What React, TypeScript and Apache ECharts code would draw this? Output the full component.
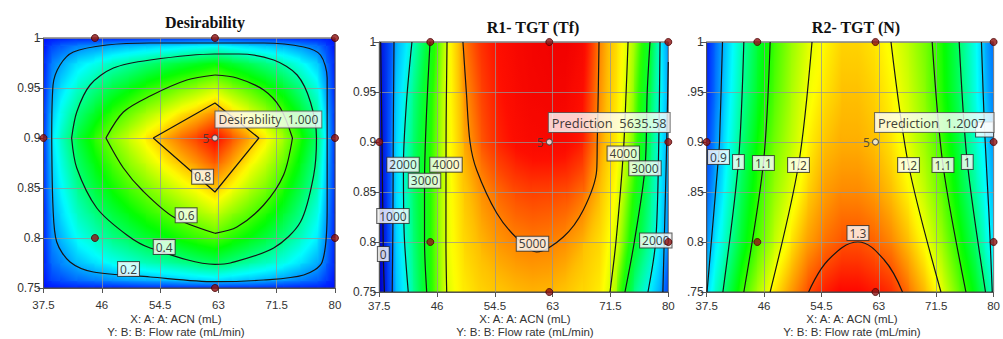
import React, { useEffect, useRef } from "react";
import * as echarts from "echarts";

// ---------------- data ----------------
const xTickValues = [37.5, 46, 54.5, 63, 71.5, 80];
const yTickValues = [0.75, 0.8, 0.85, 0.9, 0.95, 1];

// grid nodes of the colour field (A: ACN)
const fieldX = [37.5, 38.75, 40, 42.5, 45, 47.5, 50, 52.5, 55, 57.5, 60, 62.5, 65, 67.5, 70, 72.5, 75, 77.5, 78.75, 80];

// Desirability field, rows bottom (0.75) to top (1.0)
const desY = [0.75, 0.7575, 0.775, 0.8, 0.825, 0.85, 0.875, 0.9, 0.925, 0.95, 0.975, 0.9925, 1.0];
const desZ = [
  [0, 0, 0.01, 0.01, 0.01, 0.01, 0.01, 0.02, 0.02, 0.02, 0.02, 0.02, 0.02, 0.02, 0.02, 0.01, 0.01, 0.01, 0, 0],
  [0, 0.05, 0.06, 0.09, 0.11, 0.13, 0.15, 0.16, 0.17, 0.19, 0.2, 0.21, 0.19, 0.18, 0.16, 0.14, 0.11, 0.08, 0.04, 0],
  [0.01, 0.09, 0.12, 0.18, 0.22, 0.26, 0.29, 0.32, 0.34, 0.36, 0.39, 0.41, 0.38, 0.34, 0.31, 0.27, 0.22, 0.16, 0.09, 0.01],
  [0.01, 0.13, 0.17, 0.26, 0.31, 0.37, 0.41, 0.45, 0.48, 0.52, 0.55, 0.58, 0.53, 0.49, 0.44, 0.38, 0.31, 0.23, 0.12, 0.01],
  [0.01, 0.15, 0.21, 0.31, 0.38, 0.44, 0.49, 0.54, 0.58, 0.62, 0.66, 0.7, 0.64, 0.59, 0.53, 0.46, 0.37, 0.27, 0.15, 0.01],
  [0.02, 0.18, 0.24, 0.36, 0.44, 0.51, 0.57, 0.62, 0.67, 0.72, 0.76, 0.81, 0.75, 0.68, 0.62, 0.53, 0.43, 0.32, 0.17, 0.02],
  [0.02, 0.2, 0.27, 0.4, 0.49, 0.57, 0.64, 0.7, 0.76, 0.81, 0.86, 0.91, 0.84, 0.76, 0.69, 0.6, 0.48, 0.35, 0.19, 0.02],
  [0.02, 0.22, 0.3, 0.44, 0.54, 0.63, 0.7, 0.77, 0.83, 0.89, 0.94, 1.0, 0.92, 0.84, 0.76, 0.66, 0.53, 0.39, 0.21, 0.02],
  [0.02, 0.19, 0.26, 0.38, 0.46, 0.54, 0.6, 0.66, 0.71, 0.77, 0.81, 0.86, 0.79, 0.72, 0.65, 0.57, 0.46, 0.34, 0.18, 0.02],
  [0.01, 0.15, 0.21, 0.3, 0.37, 0.43, 0.48, 0.53, 0.57, 0.61, 0.65, 0.69, 0.63, 0.58, 0.52, 0.46, 0.37, 0.27, 0.14, 0.01],
  [0.01, 0.11, 0.15, 0.22, 0.26, 0.31, 0.34, 0.38, 0.41, 0.44, 0.46, 0.49, 0.45, 0.41, 0.37, 0.32, 0.26, 0.19, 0.1, 0.01],
  [0, 0.05, 0.07, 0.11, 0.13, 0.15, 0.17, 0.18, 0.2, 0.21, 0.23, 0.24, 0.22, 0.2, 0.18, 0.16, 0.13, 0.09, 0.05, 0],
  [0, 0, 0.01, 0.01, 0.01, 0.01, 0.01, 0.02, 0.02, 0.02, 0.02, 0.02, 0.02, 0.02, 0.02, 0.01, 0.01, 0.01, 0, 0],
];

// R1 - TGT (Tf) field
const r1Y = [0.75, 0.8, 0.85, 0.9, 0.95, 1.0];
const r1Z = [
  [-600, 450, 1380, 2330, 3250, 4030, 4350, 4540, 4650, 4720, 4760, 4740, 4650, 4480, 4380, 3650, 2450, 1750, 1250, 700],
  [-550, 550, 1500, 2480, 3280, 4060, 4500, 4750, 4900, 4990, 5030, 5010, 4940, 4750, 4450, 3950, 3000, 2250, 1750, 1000],
  [-450, 600, 1600, 2560, 3300, 4050, 4620, 4920, 5110, 5230, 5280, 5260, 5220, 5100, 4700, 4100, 3280, 2380, 1850, 1100],
  [-350, 620, 1560, 2550, 3280, 4050, 4800, 5180, 5400, 5540, 5620, 5636, 5600, 5420, 4880, 4300, 3550, 2500, 1900, 1200],
  [-200, 600, 1450, 2400, 3200, 4050, 4920, 5260, 5470, 5610, 5690, 5720, 5700, 5520, 4930, 4380, 3650, 2620, 1980, 1250],
  [-100, 560, 1250, 2100, 3020, 4020, 5040, 5350, 5520, 5640, 5720, 5780, 5780, 5650, 4970, 4450, 3720, 2860, 1990, 1000],
];

// R2 - TGT (N) field
const r2Y = [0.75, 0.8, 0.85, 0.9, 0.95, 1.0];
const r2Z = [
  [0.91, 0.96, 1.0, 1.09, 1.16, 1.22, 1.26, 1.3, 1.33, 1.34, 1.34, 1.33, 1.32, 1.28, 1.24, 1.19, 1.12, 1.05, 1.01, 0.96],
  [0.87, 0.92, 0.96, 1.04, 1.11, 1.17, 1.22, 1.26, 1.28, 1.3, 1.3, 1.29, 1.27, 1.24, 1.2, 1.15, 1.08, 1.01, 0.96, 0.92],
  [0.84, 0.89, 0.93, 1.02, 1.09, 1.15, 1.19, 1.23, 1.26, 1.27, 1.27, 1.26, 1.24, 1.21, 1.17, 1.12, 1.05, 0.98, 0.94, 0.89],
  [0.82, 0.87, 0.91, 1.0, 1.07, 1.13, 1.17, 1.21, 1.24, 1.25, 1.25, 1.24, 1.22, 1.19, 1.15, 1.1, 1.03, 0.96, 0.92, 0.87],
  [0.81, 0.85, 0.9, 0.98, 1.05, 1.11, 1.16, 1.2, 1.22, 1.24, 1.24, 1.23, 1.21, 1.18, 1.14, 1.08, 1.02, 0.94, 0.9, 0.86],
  [0.8, 0.85, 0.89, 0.97, 1.04, 1.1, 1.15, 1.19, 1.21, 1.23, 1.23, 1.22, 1.2, 1.17, 1.13, 1.08, 1.01, 0.94, 0.89, 0.85],
];

// contour lines (each entry: one drawn segment)
const desContours = [
  { smooth: 0.3, pts: [[38.7, 0.9], [38.89, 0.953], [39.91, 0.973], [41.85, 0.986], [46.73, 0.993], [53.05, 0.995], [62.5, 0.995], [69.6, 0.995], [75.44, 0.991], [77.88, 0.983], [78.86, 0.96], [78.86, 0.9], [78.86, 0.83], [78.13, 0.776], [75.44, 0.763], [69.6, 0.758], [62.5, 0.7563], [53.05, 0.761], [44.77, 0.766], [41.37, 0.776], [39.43, 0.796], [38.89, 0.83], [38.7, 0.9]] },
  { smooth: 0.3, pts: [[41.6, 0.9], [42.35, 0.926], [44.29, 0.953], [47.69, 0.97], [53.05, 0.978], [62.5, 0.984], [66, 0.984], [71.06, 0.978], [74.48, 0.963], [76.42, 0.936], [77.3, 0.9], [76.9, 0.863], [74.96, 0.816], [71.06, 0.79], [64.74, 0.775], [62.5, 0.7737], [53.05, 0.79], [49.65, 0.803], [45.27, 0.83], [42.35, 0.87], [41.6, 0.9]] },
  { smooth: 0.3, pts: [[46.6, 0.9], [49.15, 0.926], [53.05, 0.942], [58.4, 0.958], [62.5, 0.963]] },
  { smooth: 0.3, pts: [[62.5, 0.963], [65.7, 0.96], [69.6, 0.948], [72.04, 0.93], [73.8, 0.9]] },
  { smooth: 0.3, pts: [[73.8, 0.9], [72.5, 0.863], [69.6, 0.833], [65.7, 0.811], [62.5, 0.8047]] },
  { smooth: 0.3, pts: [[62.5, 0.8047], [56.46, 0.821], [52, 0.847], [49.15, 0.87], [46.6, 0.9]] },
  { smooth: 0, pts: [[53.5, 0.9], [62.5, 0.935], [68.9, 0.9], [62.5, 0.846], [53.5, 0.9]] },
];
const desLabels = [
  { text: "0.2", x: 49.9, y: 0.769 },
  { text: "0.4", x: 55.1, y: 0.791 },
  { text: "0.6", x: 58.3, y: 0.8227 },
  { text: "0.8", x: 60.7, y: 0.8613 },
];

const r1Contours = [
  { smooth: 0.3, pts: [[37.7, 1], [37.9, 0.9], [38.09, 0.788], [38.25, 0.75]] },
  { smooth: 0.3, pts: [[39.66, 1], [39.55, 0.9], [39.51, 0.826], [39.4, 0.75]] },
  { smooth: 0.3, pts: [[42.3, 1], [41.5, 0.94], [41.05, 0.877], [41.15, 0.81], [41.76, 0.75]] },
  { smooth: 0.3, pts: [[44.96, 1], [44.45, 0.93], [44.15, 0.861], [44.15, 0.8], [44.47, 0.75]] },
  { smooth: 0.3, pts: [[47.46, 1], [47.33, 0.92], [47.31, 0.877], [47.3, 0.8], [47.41, 0.75]] },
  { smooth: 0.3, pts: [[49.8, 1], [50.3, 0.95], [50.84, 0.9], [51.82, 0.872], [54.76, 0.829], [57.7, 0.804], [60.65, 0.79], [64.56, 0.805], [67.5, 0.832], [69.47, 0.872], [69.55, 0.9], [69.7, 0.95], [69.81, 1]] },
  { smooth: 0.3, pts: [[74.08, 1], [73.8, 0.95], [73.38, 0.8885], [72.3, 0.8], [71.43, 0.75]] },
  { smooth: 0.3, pts: [[77.31, 1], [76.9, 0.95], [76.57, 0.8737], [75.0, 0.8], [73.63, 0.75]] },
  { smooth: 0.3, pts: [[78.78, 1], [78.6, 0.9], [78.16, 0.8015], [77.01, 0.75]] },
  { smooth: 0.3, pts: [[80, 0.98], [79.7, 0.88], [79.2, 0.75]] },
];
const r1Labels = [
  { text: "0", x: 38.09, y: 0.788 },
  { text: "1000", x: 39.51, y: 0.826 },
  { text: "2000", x: 40.99, y: 0.8773 },
  { text: "3000", x: 44.15, y: 0.8613 },
  { text: "4000", x: 47.31, y: 0.8773 },
  { text: "5000", x: 60.03, y: 0.7983 },
  { text: "4000", x: 73.38, y: 0.8885 },
  { text: "3000", x: 76.57, y: 0.8737 },
  { text: "2000", x: 78.16, y: 0.8015 },
];

const r2Contours = [
  { smooth: 0.3, pts: [[39.84, 1], [39.4, 0.9], [39.25, 0.885], [37.55, 0.75]] },
  { smooth: 0.3, pts: [[43.0, 1], [42.2, 0.88], [39.9, 0.75]] },
  { smooth: 0.3, pts: [[46.9, 1], [45.9, 0.879], [43.0, 0.75]] },
  { smooth: 0.3, pts: [[53.1, 1], [51.1, 0.877], [46.9, 0.75]] },
  { smooth: 0.4, pts: [[52.6, 0.75], [55.5, 0.782], [59.9, 0.8], [63.8, 0.782], [66.5, 0.75]] },
  { smooth: 0.3, pts: [[64.8, 1], [67.4, 0.877], [72.2, 0.75]] },
  { smooth: 0.3, pts: [[70.9, 1], [72.5, 0.877], [75.9, 0.75]] },
  { smooth: 0.3, pts: [[74.9, 1], [76.1, 0.88], [78.8, 0.75]] },
  { smooth: 0.3, pts: [[78.2, 1], [78.66, 0.9125], [79.3, 0.83], [79.8, 0.75]] },
];
const r2Labels = [
  { text: "0.9", x: 39.25, y: 0.885 },
  { text: "1", x: 42.2, y: 0.88 },
  { text: "1.1", x: 45.9, y: 0.879 },
  { text: "1.2", x: 51.1, y: 0.877 },
  { text: "1.3", x: 59.9, y: 0.809 },
  { text: "1.2", x: 67.4, y: 0.877 },
  { text: "1.1", x: 72.5, y: 0.877 },
  { text: "1", x: 76.1, y: 0.88 },
];
// contour label box hidden behind the prediction box (only its lower edge shows)
const r2HiddenLabelBoxes = [[78.66, 0.9125]];

const designPoints = [[45, 1], [62.5, 1], [80, 1], [37.5, 0.9], [80, 0.9], [45, 0.8], [80, 0.8], [62.5, 0.75]];
const centerPoint = [62.5, 0.9];
const centerRuns = "5";

const titles = ["Desirability", "R1- TGT (Tf)", "R2- TGT (N)"];
const predictions = ["Desirability  1.000", "Prediction  5635.58", "Prediction  1.2007"];
const xName = "X: A: A: ACN (mL)";
const yName = "Y: B: B: Flow rate (mL/min)";

// ---------------- styling helpers ----------------
const FONT = "'Noto Sans', 'Open Sans', sans-serif";
const AXFONT = "'Liberation Sans', Arial, sans-serif";

// colour ramps: [value, r, g, b]
const desRamp = [[0, 0, 20, 255], [0.25, 0, 255, 255], [0.5, 0, 255, 0], [0.75, 255, 255, 0], [1, 255, 0, 0]];
const r1Ramp = [
  [-500, 0, 0, 190], [0, 0, 20, 225], [900, 0, 90, 255], [1300, 0, 180, 255], [1800, 0, 240, 255],
  [2300, 0, 255, 160], [2800, 0, 255, 60], [3300, 30, 255, 0], [3800, 180, 255, 0], [4200, 255, 255, 0],
  [4700, 255, 190, 0], [5000, 255, 130, 0], [5250, 255, 70, 0], [5500, 255, 15, 0], [5800, 240, 0, 0],
];
const r2Ramp = [[0.8, 0, 20, 255], [0.936, 0, 255, 255], [1.07, 0, 255, 0], [1.207, 255, 255, 0], [1.343, 255, 0, 0]];

function rampColor(v: number, ramp: number[][]) {
  if (v <= ramp[0][0]) return `rgb(${ramp[0][1]},${ramp[0][2]},${ramp[0][3]})`;
  const last = ramp[ramp.length - 1];
  if (v >= last[0]) return `rgb(${last[1]},${last[2]},${last[3]})`;
  let k = 0;
  while (k < ramp.length - 2 && v > ramp[k + 1][0]) k++;
  const a = ramp[k], b = ramp[k + 1];
  const f = (v - a[0]) / (b[0] - a[0]);
  const c = [1, 2, 3].map((i) => Math.round(a[i] + (b[i] - a[i]) * f));
  return `rgb(${c[0]},${c[1]},${c[2]})`;
}

function buildCells(xs: number[], ys: number[], z: number[][]) {
  const out: number[][] = [];
  for (let j = 0; j < ys.length - 1; j++)
    for (let i = 0; i < xs.length - 1; i++)
      out.push([xs[i], ys[j], xs[i + 1], ys[j + 1], z[j][i], z[j][i + 1], z[j + 1][i], z[j + 1][i + 1]]);
  return out;
}

function makeRender(ramp: number[][]) {
  const col = (v: number) => rampColor(v, ramp);
  return (params: any, api: any) => {
    const x0 = api.value(0), y0 = api.value(1), x1 = api.value(2), y1 = api.value(3);
    const v00 = api.value(4), v10 = api.value(5), v01 = api.value(6), v11 = api.value(7);
    const tl = api.coord([x0, y1]);
    const br = api.coord([x1, y0]);
    const c = (v00 + v10 + v01 + v11) / 4;
    const gx = (v10 - v00 + (v11 - v01)) / 2;
    const gw = (v00 - v01 + (v10 - v11)) / 2;
    const gl = Math.hypot(gx, gw);
    let fill: any;
    if (gl < 1e-9) fill = col(c);
    else {
      const dx = gx / gl, dw = gw / gl;
      const L = 0.5 * (Math.abs(dx) + Math.abs(dw));
      const stops = [];
      for (let k = 0; k <= 8; k++) {
        const t = k / 8;
        stops.push({ offset: t, color: col(c + gl * L * (2 * t - 1)) });
      }
      fill = new echarts.graphic.LinearGradient(0.5 - dx * L, 0.5 - dw * L, 0.5 + dx * L, 0.5 + dw * L, stops);
    }
    return {
      type: "rect",
      shape: { x: tl[0] - 0.4, y: tl[1] - 0.4, width: br[0] - tl[0] + 0.8, height: br[1] - tl[1] + 0.8 },
      style: { fill },
    };
  };
}

const panels = [
  { grid: { left: 43.5, top: 38, width: 291.5, height: 250 }, ys: desY, z: desZ, ramp: desRamp, contours: desContours, labels: desLabels, hidden: [] as number[][], titleX: 205, titleY: 22, nameX: 176, predOffset: [1, -26], predPad: [1, 3, 1, 3], predFont: 12, xMargin: 10.5 },
  { grid: { left: 379.3, top: 42, width: 289, height: 250 }, ys: r1Y, z: r1Z, ramp: r1Ramp, contours: r1Contours, labels: r1Labels, hidden: [] as number[][], titleX: 533, titleY: 27.5, nameX: 525, predOffset: [0, -28.5], predPad: [3, 3, 2, 3], predFont: 12.8, xMargin: 8 },
  { grid: { left: 706.7, top: 42, width: 291.3, height: 250 }, ys: r2Y, z: r2Z, ramp: r2Ramp, contours: r2Contours, labels: r2Labels, hidden: r2HiddenLabelBoxes, titleX: 856, titleY: 27.5, nameX: 852, predOffset: [0, -28.5], predPad: [3, 8, 2, 3], predFont: 12.8, xMargin: 8 },
];

function buildOption() {
  const grid: any[] = [];
  const xAxis: any[] = [];
  const yAxis: any[] = [];
  const series: any[] = [];
  const graphic: any[] = [];
  panels.forEach((p, gi) => {
    grid.push({ ...p.grid, show: true, borderColor: "#444", borderWidth: 1, backgroundColor: "transparent" });
    xAxis.push({
      gridIndex: gi, type: "value", min: xTickValues[0], max: xTickValues[xTickValues.length - 1],
      interval: xTickValues[1] - xTickValues[0],
      axisLine: { show: true, lineStyle: { color: "#555" } },
      axisTick: { show: true, length: 5, lineStyle: { color: "#555" } },
      axisLabel: { color: "#333", fontSize: 11.5, lineHeight: 12, fontFamily: AXFONT, margin: p.xMargin },
      splitLine: { show: true, lineStyle: { color: "rgba(150,150,150,0.75)", width: 1 } },
    });
    yAxis.push({
      gridIndex: gi, type: "value", min: yTickValues[0], max: yTickValues[yTickValues.length - 1],
      interval: 0.05,
      axisLine: { show: true, lineStyle: { color: "#555" } },
      axisTick: { show: true, length: 6, lineStyle: { color: "#555" } },
      axisLabel: {
        color: "#333", fontSize: 12, lineHeight: 12, fontFamily: AXFONT, margin: 3,
        formatter: (v: number) => {
          const s = String(Math.round(v * 100) / 100);
          if (gi === 2 && s.length === 4) return s.slice(1);
          return s;
        },
      },
      splitLine: { show: true, lineStyle: { color: "rgba(150,150,150,0.75)", width: 1 } },
    });
    series.push({
      type: "custom", xAxisIndex: gi, yAxisIndex: gi, z: -1, silent: true, clip: true,
      renderItem: makeRender(p.ramp),
      encode: { x: [0, 2], y: [1, 3] },
      data: buildCells(fieldX, p.ys, p.z),
    });
    p.contours.forEach((c) => {
      series.push({
        type: "line", xAxisIndex: gi, yAxisIndex: gi, data: c.pts, smooth: c.smooth, symbol: "none",
        lineStyle: { color: "#151515", width: 1.2 }, silent: true, z: 3, clip: true,
      });
    });
    series.push({
      type: "scatter", xAxisIndex: gi, yAxisIndex: gi, symbolSize: 1, z: 5, silent: true,
      itemStyle: { color: "rgba(0,0,0,0)" },
      label: {
        show: true, position: "inside", formatter: "{b}", color: "#111", fontSize: 12, fontFamily: FONT,
        backgroundColor: "#fff", borderColor: "#333", borderWidth: 1, padding: [1, 2, 0, 2], lineHeight: 13,
      },
      data: p.labels.map((l) => ({ name: l.text, value: [l.x, l.y] })),
    });
    if (p.hidden.length) {
      series.push({
        type: "scatter", xAxisIndex: gi, yAxisIndex: gi, symbol: "rect", symbolSize: [18, 15], z: 5, silent: true,
        itemStyle: { color: "#fff", borderColor: "#333", borderWidth: 1 },
        data: p.hidden,
      });
    }
    series.push({
      type: "scatter", xAxisIndex: gi, yAxisIndex: gi, symbol: "circle", symbolSize: 7, z: 6, silent: true,
      itemStyle: { color: "#8e1010", borderColor: "#4a0000", borderWidth: 1 },
      data: designPoints,
    });
    series.push({
      type: "scatter", xAxisIndex: gi, yAxisIndex: gi, symbol: "circle", symbolSize: 6, z: 7, silent: true,
      itemStyle: { color: "#f0f0f0", borderColor: "#444", borderWidth: 1.2 },
      label: { show: true, position: "left", distance: 2, formatter: centerRuns, color: "#333", fontSize: 12, fontFamily: FONT },
      data: [centerPoint],
    });
    series.push({
      type: "scatter", xAxisIndex: gi, yAxisIndex: gi, symbolSize: 1, z: 8, silent: true,
      itemStyle: { color: "rgba(0,0,0,0)" },
      label: {
        show: true, position: p.predOffset, formatter: "{b}", color: "#111", fontSize: p.predFont, fontFamily: FONT,
        backgroundColor: "#fff", borderColor: "#555", borderWidth: 1, padding: p.predPad, lineHeight: 14,
      },
      data: [{ name: predictions[gi], value: centerPoint }],
    });
    graphic.push({
      type: "text", x: p.titleX, y: p.titleY, silent: true,
      style: { text: titles[gi], font: 'bold 16px "Liberation Serif", serif', fill: "#111", align: "center", verticalAlign: "middle" },
    });
    graphic.push({
      type: "text", x: p.nameX, y: 318.5, silent: true,
      style: { text: xName, font: `11.5px ${AXFONT}`, lineHeight: 12, fill: "#333", align: "center", verticalAlign: "middle" },
    });
    graphic.push({
      type: "text", x: p.nameX, y: 332, silent: true,
      style: { text: yName, font: `11.5px ${AXFONT}`, lineHeight: 12, fill: "#333", align: "center", verticalAlign: "middle" },
    });
  });
  return { animation: false, backgroundColor: "#fff", grid, xAxis, yAxis, series, graphic };
}

export default function App() {
  const ref = useRef<HTMLDivElement>(null);
  useEffect(() => {
    if (!ref.current) return;
    const chart = echarts.init(ref.current, undefined, { renderer: "svg" });
    chart.setOption(buildOption() as any);
    return () => chart.dispose();
  }, []);
  return <div ref={ref} style={{ position: "fixed", left: 0, top: 0, width: 1003, height: 339, background: "#fff" }} />;
}
